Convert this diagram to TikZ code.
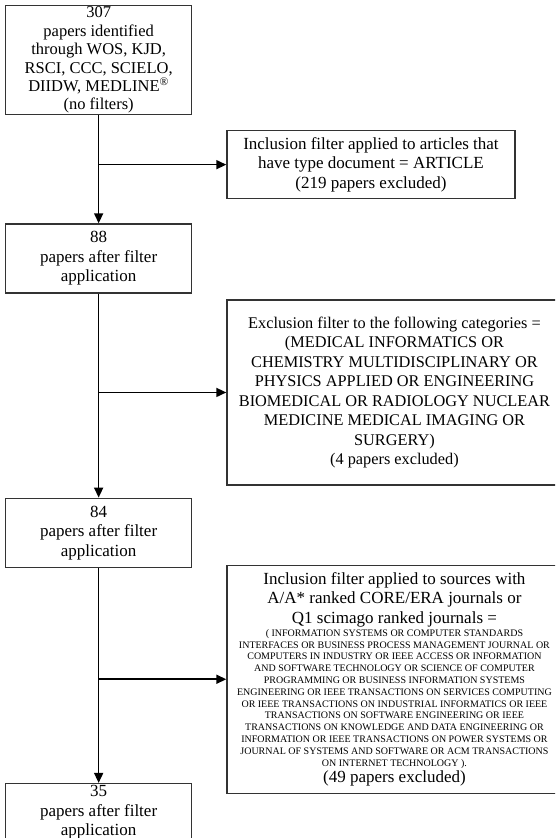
\documentclass[tikz,border=0pt]{standalone}
\usepackage{fontspec}
\setmainfont{Liberation Serif}
\usetikzlibrary{arrows.meta, positioning}

\begin{document}
\begin{tikzpicture}[x=1pt, y=1pt,
    colbox/.style={draw=black!80, line width=1.3pt, align=center, inner sep=0pt, minimum width=186pt,
        font=\fontsize{17}{19.5}\selectfont},
    sidebox/.style={draw=black!80, line width=1.3pt, align=center, inner sep=0pt,
        font=\fontsize{17}{19.5}\selectfont},
    bigarrow/.style={-{Triangle[length=10pt,width=9pt]}, line width=1.6pt},
    node distance=10pt
]
    \clip (0,0) rectangle (555,-838);

    % Main column
    \node[colbox, minimum height=109pt, anchor=north west, font=\fontsize{16.5}{18.4}\selectfont] (ident) at (5,-5)
        {307\\papers identified\\through WOS, KJD,\\RSCI, CCC, SCIELO,\\DIIDW, MEDLINE\textsuperscript{®}\\(no filters)};
    \node[colbox, minimum height=69pt, below=108pt of ident] (after88) {88\\papers after filter\\application};
    \node[colbox, minimum height=69pt, below=204pt of after88] (after84) {84\\papers after filter\\application};
    \node[colbox, minimum height=58pt, below=215pt of after84] (after35) {35\\papers after filter\\application};

    % Filters
    \node[sidebox, minimum width=288pt, minimum height=68pt, below right=125pt and 34pt of ident.north east] (typefilt)
        {Inclusion filter applied to articles that\\have type document = ARTICLE\\(219 papers excluded)};
    \node[sidebox, minimum width=335pt, minimum height=185pt, below right=76pt and 34pt of after88.north east,
        font=\fontsize{16.3}{19.5}\selectfont] (catfilt)
        {Exclusion filter to the following categories =\\(MEDICAL INFORMATICS OR\\CHEMISTRY MULTIDISCIPLINARY OR\\PHYSICS APPLIED OR ENGINEERING\\BIOMEDICAL OR RADIOLOGY NUCLEAR\\MEDICINE MEDICAL IMAGING OR\\SURGERY)\\(4 papers excluded)};
    \node[sidebox, minimum width=335pt, minimum height=228pt, below right=67pt and 34pt of after84.north east] (srcfilt)
        {Inclusion filter applied to sources with\\A/A* ranked CORE/ERA journals or\\Q1 scimago ranked journals =\\
        {\fontsize{10}{11.8}\selectfont\begin{tabular}{@{}c@{}}( INFORMATION SYSTEMS OR COMPUTER STANDARDS\\INTERFACES OR BUSINESS PROCESS MANAGEMENT JOURNAL OR\\COMPUTERS IN INDUSTRY OR IEEE ACCESS OR INFORMATION\\AND SOFTWARE TECHNOLOGY OR SCIENCE OF COMPUTER\\PROGRAMMING OR BUSINESS INFORMATION SYSTEMS\\ENGINEERING OR IEEE TRANSACTIONS ON SERVICES COMPUTING\\OR IEEE TRANSACTIONS ON INDUSTRIAL INFORMATICS OR IEEE\\TRANSACTIONS ON SOFTWARE ENGINEERING OR IEEE\\TRANSACTIONS ON KNOWLEDGE AND DATA ENGINEERING OR\\INFORMATION OR IEEE TRANSACTIONS ON POWER SYSTEMS OR\\JOURNAL OF SYSTEMS AND SOFTWARE OR ACM TRANSACTIONS\\ON INTERNET TECHNOLOGY ).\end{tabular}}\\
        (49 papers excluded)};

    % Branch points on the trunk
    \coordinate (j1) at (ident.south |- typefilt.west);
    \coordinate (j2) at (after88.south |- catfilt.west);
    \coordinate (j3) at (after84.south |- srcfilt.west);

    % Arrows
    \draw[bigarrow] (ident) -- (after88);
    \draw[bigarrow] (after88) -- (after84);
    \draw[bigarrow] (after84) -- (after35);
    \draw[bigarrow] (j1) -- (typefilt);
    \draw[bigarrow] (j2) -- (catfilt);
    \draw[bigarrow] (j3) -- (srcfilt);
\end{tikzpicture}
\end{document}
